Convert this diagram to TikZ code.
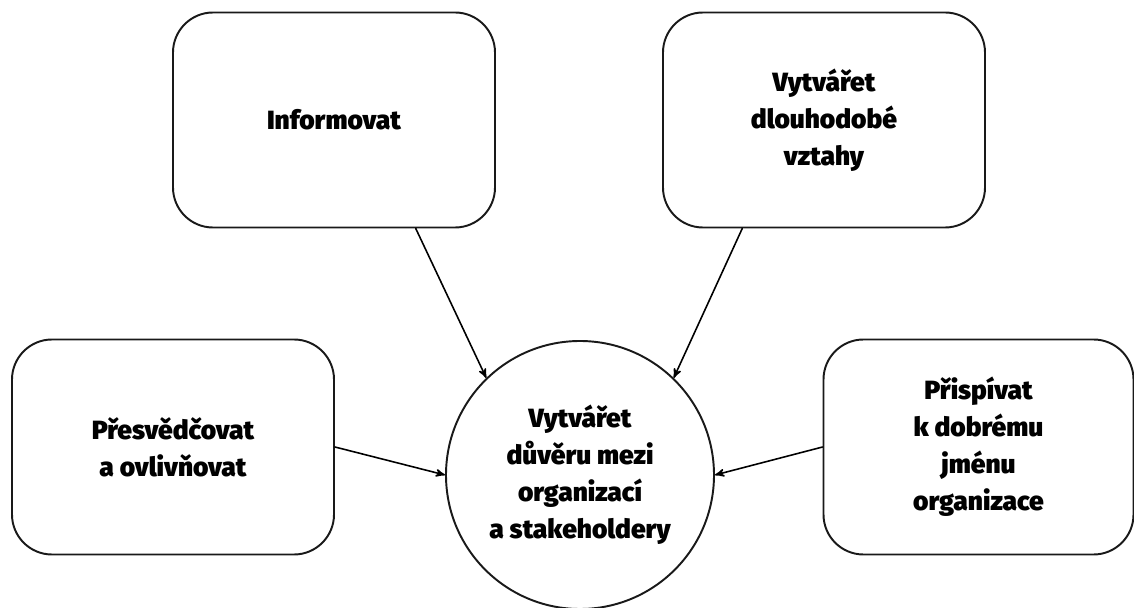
\documentclass[tikz,border=0pt]{standalone}
\usepackage{fontspec}
\setmainfont{Fira Sans}[UprightFont={* Black},BoldFont={* Black}]
\usepackage{tikz}
\usetikzlibrary{arrows}
\definecolor{qqqqqq}{rgb}{0.1,0.1,0.1}

\begin{document}
\begin{tikzpicture}[line cap=round,line join=round,>=stealth',x=1.0cm,y=1.0cm,
  cil/.style={draw=qqqqqq,line width=1.1pt,rounded corners=0.8cm,minimum width=6.44cm,minimum height=4.3cm,align=center,font=\fontsize{15}{21}\selectfont},
  stred/.style={draw=qqqqqq,line width=1.1pt,circle,minimum size=5.36cm,inner sep=0pt,align=center,font=\fontsize{15}{21}\selectfont},
  sipka/.style={->,line width=0.9pt}]
\useasboundingbox (0,0) rectangle (22.68,-12.16);
\node[stred] (duvera) at (11.6,-9.5) {Vytvářet\\důvěru mezi\\organizací\\a stakeholdery};
\node[cil] (informovat) at (6.68,-2.4) {Informovat};
\node[cil] (vztahy) at (16.48,-2.4) {Vytvářet\\dlouhodobé\\vztahy};
\node[cil] (presvedcovat) at (3.46,-8.94) {Přesvědčovat\\a ovlivňovat};
\node[cil,minimum width=6.2cm] (jmeno) at (19.57,-8.94) {Přispívat\\k dobrému\\jménu\\organizace};
\draw [sipka] (informovat.-53)-- (duvera.134);
\draw [sipka] (vztahy.-127)-- (duvera.46);
\draw [sipka] (presvedcovat.east)-- (duvera.west);
\draw [sipka] (jmeno.west)-- (duvera.east);
\end{tikzpicture}
\end{document}
